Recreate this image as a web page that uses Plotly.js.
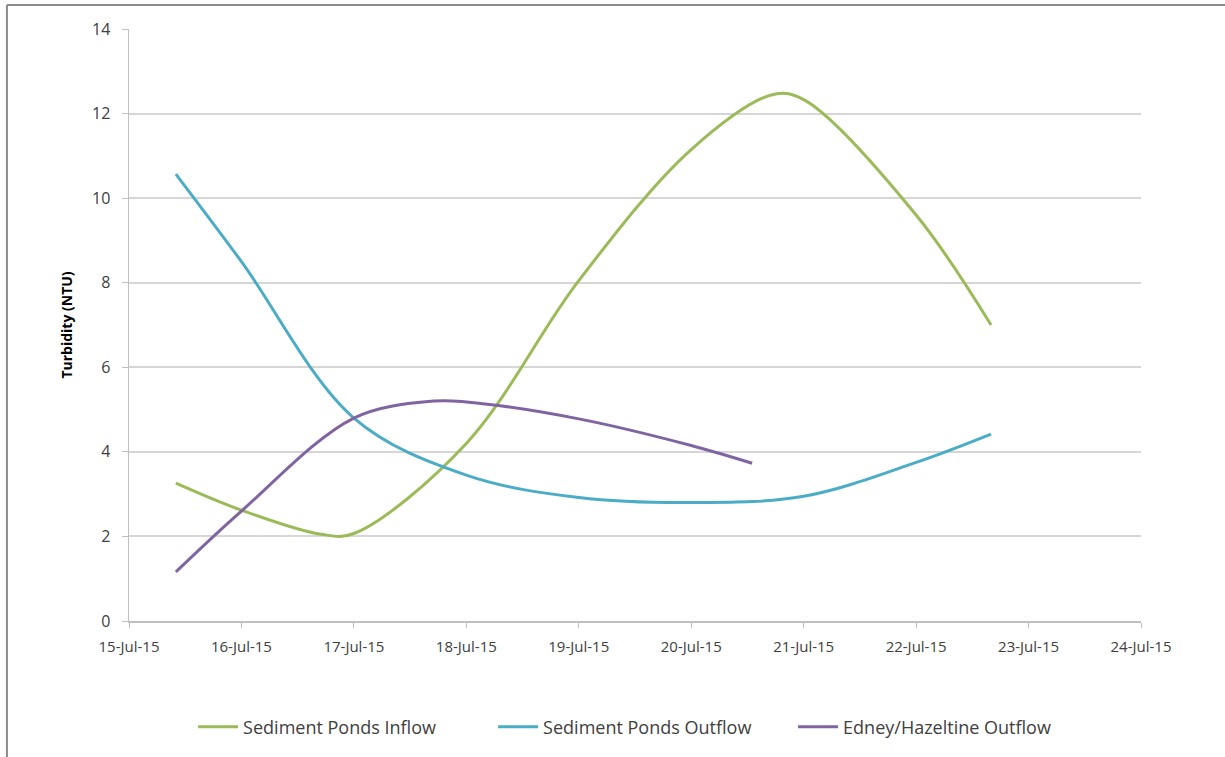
<!DOCTYPE html>
<html>
<head>
<meta charset="utf-8">
<script src="https://cdn.plot.ly/plotly-3.0.1.min.js"></script>
<style>
  html, body { margin: 0; padding: 0; background: #ffffff; }
  #chart { width: 1225px; height: 757px; }
</style>
</head>
<body>
<div id="chart"></div>
<script>
// Sampled readings (date/time, turbidity NTU)
const inflowDates  = ["2015-07-15 10:00", "2015-07-16 00:00", "2015-07-16 17:00", "2015-07-17 00:00", "2015-07-18 00:00", "2015-07-19 00:00", "2015-07-20 00:00", "2015-07-20 17:30", "2015-07-21 00:00", "2015-07-22 00:00", "2015-07-22 16:00"];
const inflowValues = [3.26, 2.62, 2.05, 2.07, 4.2, 8.05, 11.15, 12.45, 12.33, 9.6, 7.0];

const outflowDates  = ["2015-07-15 10:00", "2015-07-16 00:00", "2015-07-17 00:00", "2015-07-18 00:00", "2015-07-19 00:00", "2015-07-20 00:00", "2015-07-21 00:00", "2015-07-22 00:00", "2015-07-22 16:00"];
const outflowValues = [10.57, 8.5, 4.8, 3.45, 2.92, 2.8, 2.95, 3.75, 4.42];

const edneyDates  = ["2015-07-15 10:00", "2015-07-16 00:00", "2015-07-17 00:00", "2015-07-17 17:00", "2015-07-18 00:00", "2015-07-19 00:00", "2015-07-20 00:00", "2015-07-20 13:00"];
const edneyValues = [1.16, 2.6, 4.8, 5.2, 5.18, 4.78, 4.15, 3.73];

const tickDates  = ["2015-07-15", "2015-07-16", "2015-07-17", "2015-07-18", "2015-07-19", "2015-07-20", "2015-07-21", "2015-07-22", "2015-07-23", "2015-07-24"];
const tickLabels = ["15-Jul-15", "16-Jul-15", "17-Jul-15", "18-Jul-15", "19-Jul-15", "20-Jul-15", "21-Jul-15", "22-Jul-15", "23-Jul-15", "24-Jul-15"];

const seriesNames = ["Sediment Ponds Inflow", "Sediment Ponds Outflow", "Edney/Hazeltine Outflow"];
const seriesColors = ["#9BBB59", "#4BACC6", "#8064A2"];

const font = "Open Sans, Liberation Sans, sans-serif";

function mk(x, y, i) {
  return {
    x: x, y: y, type: "scatter", mode: "lines", name: seriesNames[i],
    line: { color: seriesColors[i], width: 3, shape: "spline", smoothing: 1 },
    hoverinfo: "x+y"
  };
}

const data = [
  mk(inflowDates, inflowValues, 0),
  mk(outflowDates, outflowValues, 1),
  mk(edneyDates, edneyValues, 2)
];

const layout = {
  width: 1225, height: 757,
  margin: { l: 129, r: 84, t: 29, b: 136 },
  paper_bgcolor: "#ffffff", plot_bgcolor: "#ffffff",
  font: { family: font, size: 15, color: "#404040" },
  showlegend: true,
  legend: {
    orientation: "h", x: 0.508, xanchor: "center", y: -0.179, yanchor: "middle",
    font: { family: font, size: 18, color: "#404040" },
    itemwidth: 40, entrywidth: 245, entrywidthmode: "pixels", tracegroupgap: 0
  },
  xaxis: {
    type: "date",
    range: ["2015-07-15", "2015-07-24"],
    tickmode: "array", tickvals: tickDates, ticktext: tickLabels,
    showgrid: false, zeroline: false,
    showline: true, linecolor: "#BFBFBF", linewidth: 1.5,
    ticks: "outside", ticklen: 5, tickcolor: "#BFBFBF",
    ticklabelstandoff: 6,
    tickfont: { family: font, size: 15, color: "#404040" },
    fixedrange: true
  },
  yaxis: {
    range: [0, 14], tickmode: "linear", tick0: 0, dtick: 2,
    showgrid: true, gridcolor: "#D6D6D6", gridwidth: 2,
    zeroline: false,
    showline: true, linecolor: "#BFBFBF", linewidth: 1.5,
    ticks: "outside", ticklen: 6, tickcolor: "#BFBFBF",
    ticklabelstandoff: 8,
    tickfont: { family: font, size: 16, color: "#404040" },
    title: { text: "<b>Turbidity (NTU)</b>", font: { family: font, size: 14, color: "#000000" }, standoff: 16 },
    fixedrange: true
  },
  shapes: [
    { type: "line", xref: "paper", yref: "paper", x0: -0.1206, x1: 1.2, y0: 1.0405, y1: 1.0405, line: { color: "#8C8C8C", width: 2 } },
    { type: "line", xref: "paper", yref: "paper", x0: -0.1206, x1: -0.1206, y0: 1.0405, y1: -0.3, line: { color: "#8C8C8C", width: 2 } }
  ]
};

Plotly.newPlot("chart", data, layout, { displayModeBar: false, staticPlot: true });
</script>
</body>
</html>
